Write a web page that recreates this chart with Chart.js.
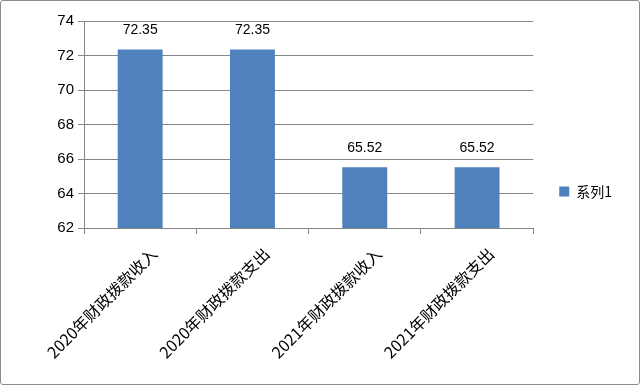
<!DOCTYPE html>
<html>
<head>
<meta charset="utf-8">
<script src="https://cdn.jsdelivr.net/npm/chart.js@4/dist/chart.umd.min.js"></script>
<style>
  html, body { margin: 0; padding: 0; background: #fff; }
  #wrap { width: 640px; height: 385px; box-sizing: border-box; border: 1px solid #8c8c8c; border-radius: 3px; overflow: hidden; }
</style>
</head>
<body>
<div id="wrap"><canvas id="mainChart" width="638" height="383"></canvas></div>
<script>
const categories = ['2020年财政拨款收入', '2020年财政拨款支出', '2021年财政拨款收入', '2021年财政拨款支出'];
const values = [72.35, 72.35, 65.52, 65.52];
const seriesName = '系列1';
const yMin = 62, yMax = 74, yStep = 2;

const axisColor = '#868686';

// numbers above each bar
const valueLabels = {
    id: 'valueLabels',
    afterDatasetsDraw(chart) {
        const ctx = chart.ctx;
        const meta = chart.getDatasetMeta(0);
        ctx.save();
        ctx.font = '14px "Liberation Sans"';
        ctx.fillStyle = '#000';
        ctx.textAlign = 'center';
        ctx.textBaseline = 'middle';
        meta.data.forEach((bar, i) => {
            ctx.fillText(values[i].toFixed(2), bar.x, bar.y - 19);
        });
        ctx.restore();
    }
};

new Chart(document.getElementById('mainChart').getContext('2d'), {
    type: 'bar',
    data: {
        labels: categories,
        datasets: [{
            label: seriesName,
            data: values,
            backgroundColor: '#4F81BD',
            borderWidth: 0,
            barPercentage: 0.4,
            categoryPercentage: 1.0
        }]
    },
    options: {
        responsive: false,
        animation: false,
        layout: { padding: { top: 20, left: 10, right: 17, bottom: 22 } },
        plugins: {
            tooltip: { enabled: false },
            legend: {
                position: 'right',
                labels: {
                    boxWidth: 10, boxHeight: 10, padding: 26,
                    color: '#000',
                    font: { size: 14, family: '"Noto Sans CJK SC"' }
                }
            }
        },
        scales: {
            y: {
                min: yMin, max: yMax,
                ticks: { stepSize: yStep, color: '#000', padding: 4, font: { size: 15, family: '"Liberation Sans"' } },
                grid: { color: axisColor, tickLength: 6 },
                border: { color: axisColor },
                afterFit: (s) => { s.width = 73; }
            },
            x: {
                offset: true,
                ticks: { minRotation: 45, maxRotation: 45, labelOffset: 14, color: '#000', padding: 10, font: { size: 16, family: '"Noto Sans CJK SC"' } },
                grid: { offset: true, drawOnChartArea: false, color: axisColor, tickLength: 6 },
                border: { color: axisColor },
                afterFit: (s) => { s.height = 134; }
            }
        }
    },
    plugins: [valueLabels]
});
</script>
</body>
</html>
